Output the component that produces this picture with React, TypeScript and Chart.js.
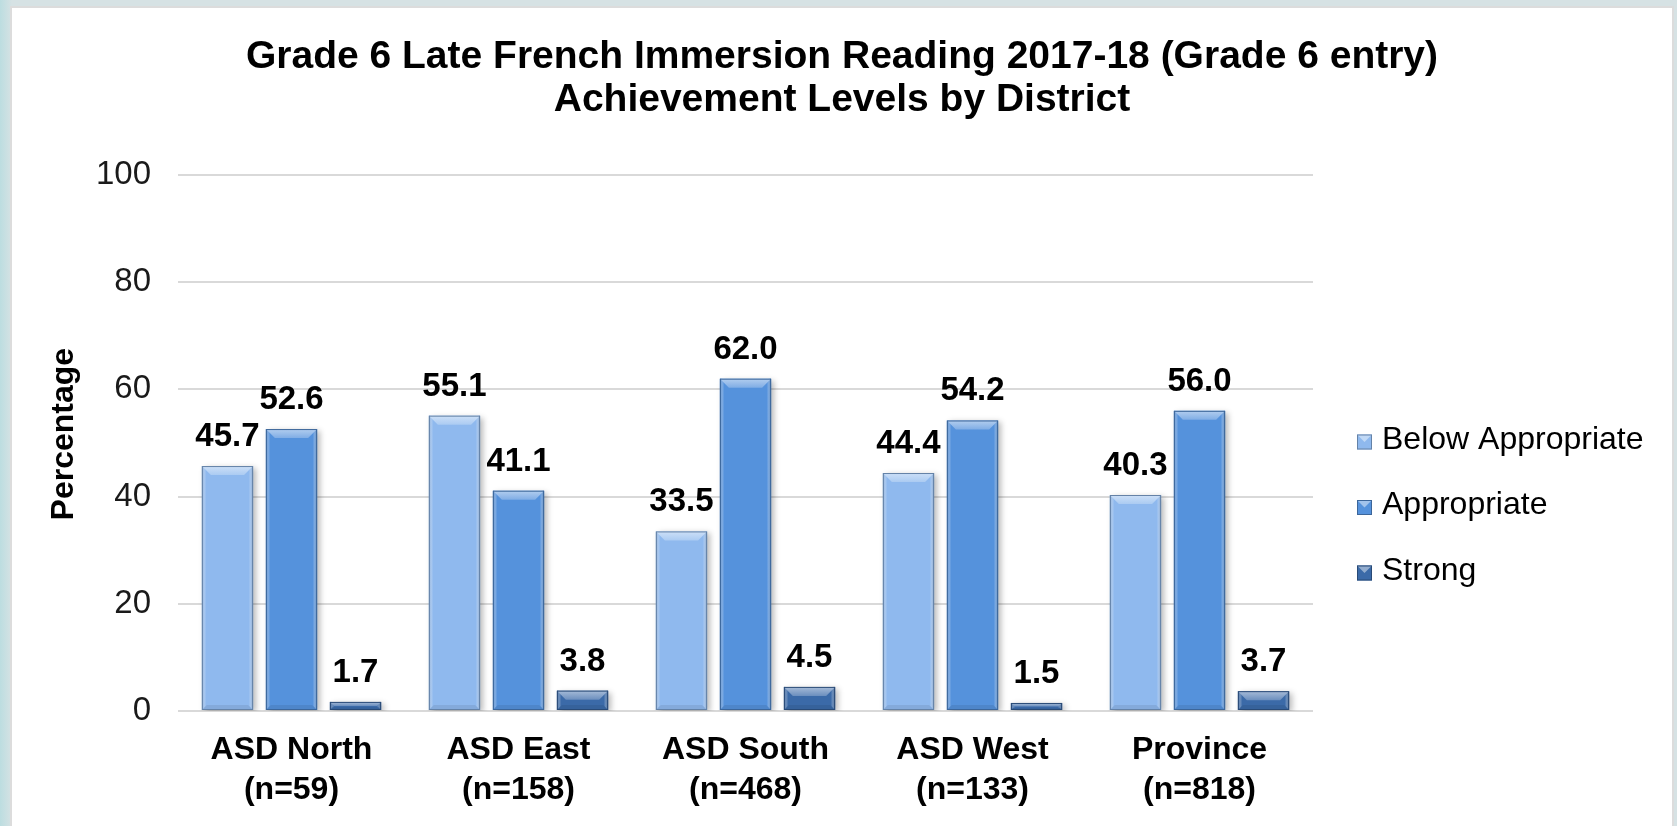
import React, { useEffect, useRef } from "react";
import { Chart, registerables } from "chart.js";

Chart.register(...registerables);

// ---------- data ----------
const titleLines = [
  "Grade 6 Late French Immersion Reading 2017-18 (Grade 6 entry)",
  "Achievement Levels by District",
];
const districtNames = ["ASD North", "ASD East", "ASD South", "ASD West", "Province"];
const districtCounts = ["(n=59)", "(n=158)", "(n=468)", "(n=133)", "(n=818)"];
const seriesNames = ["Below Appropriate", "Appropriate", "Strong"];
const belowAppropriate = [45.7, 55.1, 33.5, 44.4, 40.3];
const appropriate = [52.6, 41.1, 62.0, 54.2, 56.0];
const strong = [1.7, 3.8, 4.5, 1.5, 3.7];
const yAxisTitle = "Percentage";
const yMin = 0;
const yMax = 100;
const yStep = 20;

// ---------- styles ----------
const seriesColors = ["#8fb9ee", "#5592dc", "#3b6aa8"];
const FONT = "'Liberation Sans', Arial, sans-serif";

function parseHex(hex: string) {
  const h = hex.replace("#", "");
  return [parseInt(h.slice(0, 2), 16), parseInt(h.slice(2, 4), 16), parseInt(h.slice(4, 6), 16)];
}
function mix(hex: string, target: string, t: number) {
  const a = parseHex(hex);
  const b = parseHex(target);
  const c = a.map((v, i) => Math.round(v + (b[i] - v) * t));
  return `rgb(${c[0]},${c[1]},${c[2]})`;
}

const bevelPlugin = {
  id: "bevel",
  beforeDatasetsDraw(chart: any) {
    const ctx = chart.ctx;
    ctx.save();
    ctx.shadowColor = "rgba(0,0,0,0.28)";
    ctx.shadowBlur = 6;
    ctx.shadowOffsetX = 3;
    ctx.shadowOffsetY = 2;
  },
  afterDatasetsDraw(chart: any) {
    const ctx = chart.ctx;
    ctx.restore();
    chart.data.datasets.forEach((ds: any, di: number) => {
      const meta = chart.getDatasetMeta(di);
      const base = seriesColors[di];
      meta.data.forEach((bar: any) => {
        const left = bar.x - bar.width / 2;
        const right = bar.x + bar.width / 2;
        const top = Math.min(bar.y, bar.base);
        const bottom = Math.max(bar.y, bar.base);
        const h = bottom - top;
        const b = Math.min(9, h / 2, bar.width / 2);
        ctx.save();
        const g = ctx.createLinearGradient(left, 0, right, 0);
        g.addColorStop(0, mix(base, "#000000", 0.12));
        g.addColorStop(0.08, "rgba(255,255,255,0)");
        g.addColorStop(0.92, "rgba(255,255,255,0)");
        g.addColorStop(1, mix(base, "#000000", 0.2));
        ctx.fillStyle = g;
        ctx.fillRect(left, top, right - left, h);
        ctx.beginPath();
        ctx.moveTo(left, top);
        ctx.lineTo(right, top);
        ctx.lineTo(right - b, top + b);
        ctx.lineTo(left + b, top + b);
        ctx.closePath();
        const tg = ctx.createLinearGradient(0, top, 0, top + b);
        tg.addColorStop(0, mix(base, "#ffffff", 0.55));
        tg.addColorStop(1, mix(base, "#ffffff", 0.25));
        ctx.fillStyle = tg;
        ctx.fill();
        const bb = Math.min(5, h / 3);
        ctx.beginPath();
        ctx.moveTo(left, bottom);
        ctx.lineTo(right, bottom);
        ctx.lineTo(right - bb, bottom - bb);
        ctx.lineTo(left + bb, bottom - bb);
        ctx.closePath();
        ctx.fillStyle = mix(base, "#000000", 0.08);
        ctx.fill();
        ctx.strokeStyle = mix(base, "#000000", 0.3);
        ctx.lineWidth = 1;
        ctx.strokeRect(left + 0.5, top + 0.5, right - left - 1, h - 1);
        ctx.restore();
      });
    });
    ctx.save();
    ctx.font = `bold 33px ${FONT}`;
    ctx.fillStyle = "#000";
    ctx.textAlign = "center";
    ctx.textBaseline = "alphabetic";
    chart.data.datasets.forEach((ds: any, di: number) => {
      const meta = chart.getDatasetMeta(di);
      meta.data.forEach((bar: any, i: number) => {
        ctx.fillText(Number(ds.data[i]).toFixed(1), bar.x, bar.y - 20);
      });
    });
    ctx.restore();
  },
};

const legendPlugin = {
  id: "sideLegend",
  afterDraw(chart: any, _args: any, opts: any) {
    const ctx = chart.ctx;
    const area = chart.chartArea;
    ctx.save();
    ctx.font = `${opts.fontSize}px ${FONT}`;
    ctx.textBaseline = "middle";
    ctx.textAlign = "left";
    chart.data.datasets.forEach((ds: any, i: number) => {
      const cy = area.top + opts.firstOffset + i * opts.spacing;
      const bx = area.right + opts.boxGap;
      const s = opts.boxSize;
      const by = cy - s / 2 + 2;
      const base = seriesColors[i];
      ctx.fillStyle = base;
      ctx.fillRect(bx, by, s, s);
      ctx.beginPath();
      ctx.moveTo(bx, by);
      ctx.lineTo(bx + s, by);
      ctx.lineTo(bx + s / 2, by + s / 2);
      ctx.closePath();
      ctx.fillStyle = mix(base, "#ffffff", 0.45);
      ctx.fill();
      ctx.strokeStyle = mix(base, "#000000", 0.3);
      ctx.lineWidth = 1;
      ctx.strokeRect(bx + 0.5, by + 0.5, s - 1, s - 1);
      ctx.fillStyle = "#000";
      ctx.fillText(ds.label, area.right + opts.textGap, cy);
    });
    ctx.restore();
  },
};

export default function App() {
  const ref = useRef<HTMLCanvasElement>(null);
  useEffect(() => {
    const datasets = [belowAppropriate, appropriate, strong].map((values, i) => ({
      label: seriesNames[i],
      data: values,
      yAxisID: "y",
      backgroundColor: seriesColors[i],
      borderWidth: 0,
      categoryPercentage: 0.846,
      barPercentage: 0.8,
    }));
    const chart = new Chart(ref.current as HTMLCanvasElement, {
      type: "bar",
      data: {
        labels: districtNames.map((n, i) => [n, districtCounts[i]]),
        datasets,
      },
      options: {
        animation: false,
        responsive: false,
        devicePixelRatio: 1,
        font: { family: FONT },
        layout: { padding: 0 },
        plugins: {
          legend: { display: false },
          tooltip: { enabled: false },
          title: {
            display: true,
            text: titleLines,
            color: "#000",
            font: { family: FONT, size: 39, weight: "bold", lineHeight: "43px" },
            padding: { top: 28, bottom: 53 },
          },
          sideLegend: {
            fontSize: 32,
            firstOffset: 265,
            spacing: 65.5,
            boxGap: 44,
            textGap: 69,
            boxSize: 15,
          },
        } as any,
        scales: {
          x: {
            grid: { display: false, drawTicks: false },
            border: { display: false },
            ticks: {
              color: "#000",
              font: { family: FONT, size: 32, weight: "bold", lineHeight: "40px" },
              padding: 19,
              maxRotation: 0,
              autoSkip: false,
            },
            afterFit: (s: any) => {
              s.height = 115;
            },
          },
          y: {
            position: "left",
            min: yMin,
            max: yMax,
            grid: { color: "#d9d9d9", lineWidth: 2, drawTicks: false },
            border: { display: false },
            ticks: {
              stepSize: yStep,
              color: "#1a1a1a",
              font: { family: FONT, size: 33 },
              padding: 27,
            },
            title: {
              display: true,
              text: "  " + yAxisTitle,
              color: "#000",
              font: { family: FONT, size: 32, weight: "bold", lineHeight: 1.2 },
              padding: { top: 33, bottom: 10 },
            },
            afterFit: (s: any) => {
              s.width = 166;
            },
          },
          legendSpace: {
            type: "linear",
            position: "right",
            display: true,
            grid: { display: false, drawTicks: false },
            border: { display: false },
            ticks: { display: false },
            afterFit: (s: any) => {
              s.width = 359;
            },
          },
        } as any,
      },
      plugins: [bevelPlugin, legendPlugin],
    });
    return () => chart.destroy();
  }, []);

  return (
    <div
      style={{
        position: "fixed",
        left: 0,
        top: 0,
        width: 1677,
        height: 826,
        background: "linear-gradient(90deg, #bcdde0 0px, #d6e2e4 12px, #d6e2e4 100%)",
        overflow: "hidden",
      }}
    >
      <div
        style={{
          position: "absolute",
          left: 10,
          top: 6,
          width: 1664,
          height: 822,
          boxSizing: "border-box",
          border: "2px solid #dcdcdc",
          background: "#fff",
        }}
      >
        <canvas ref={ref} width={1660} height={818} style={{ display: "block" }} />
      </div>
    </div>
  );
}
